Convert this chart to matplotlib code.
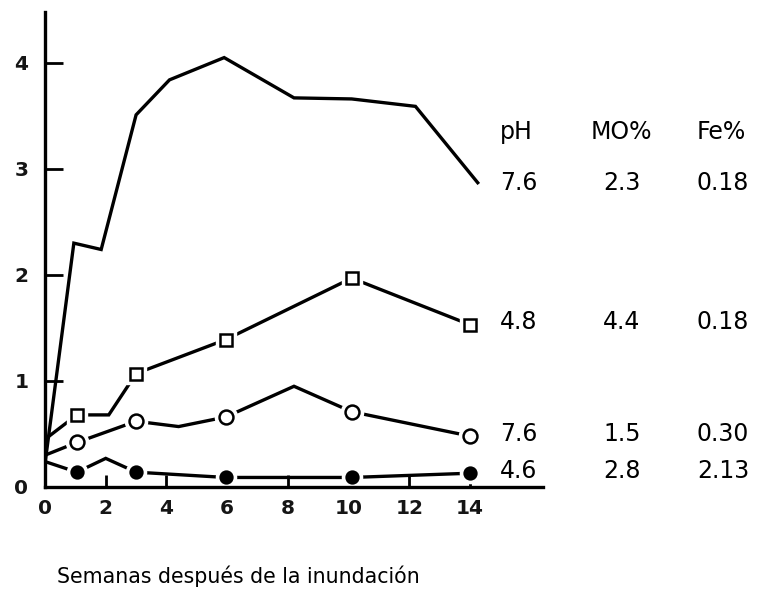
import matplotlib
matplotlib.use("Agg")
import matplotlib.pyplot as plt

top_weeks = [0, 0.95, 1.85, 3.0, 4.1, 5.9, 8.2, 10.1, 12.2, 14.25]
top_vals = [0.22, 2.30, 2.24, 3.51, 3.84, 4.05, 3.67, 3.66, 3.59, 2.87]

sq_weeks = [0, 1.05, 2.1, 3.0, 5.95, 10.1, 14.0]
sq_vals = [0.45, 0.68, 0.68, 1.07, 1.39, 1.97, 1.53]
sq_marks = [1, 3, 4, 5, 6]

circ_weeks = [0, 1.05, 3.0, 4.4, 5.95, 8.2, 10.1, 14.0]
circ_vals = [0.30, 0.42, 0.62, 0.57, 0.66, 0.95, 0.71, 0.48]
circ_marks = [1, 2, 4, 6, 7]

dot_weeks = [0, 1.05, 2.0, 3.0, 5.95, 10.1, 14.0]
dot_vals = [0.24, 0.14, 0.27, 0.14, 0.09, 0.09, 0.13]
dot_marks = [1, 3, 4, 5, 6]

# soil table to the right of the curves (top to bottom)
ph = ["7.6", "4.8", "7.6", "4.6"]
mo = ["2.3", "4.4", "1.5", "2.8"]
fe = ["0.18", "0.18", "0.30", "2.13"]
row_y = [183, 322, 434, 471]   # pixel rows of the table lines

x_ticks = [0, 2, 4, 6, 8, 10, 12, 14]
y_ticks = [0, 1, 2, 3, 4]

W, H = 758, 597
fig = plt.figure(figsize=(W / 100, H / 100), dpi=100)
ax = fig.add_axes([45 / W, 1 - 487 / H, (543 - 45) / W, (487 - 12) / H])

lw = 2.4
ax.plot(top_weeks, top_vals, color="black", lw=lw, solid_joinstyle="miter")


def series(x, y, marks, marker, face, size):
    ax.plot(x, y, color="black", lw=lw, solid_joinstyle="miter")
    # white halo so the line stops short of the symbol, like the drawing
    ax.plot(x, y, ls="none", marker=marker, markevery=marks, ms=size + 6,
            mfc="white", mec="white")
    ax.plot(x, y, ls="none", marker=marker, markevery=marks, ms=size,
            mfc=face, mec="black", mew=1.8)


series(sq_weeks, sq_vals, sq_marks, "s", "white", 9)
series(circ_weeks, circ_vals, circ_marks, "o", "white", 10)
series(dot_weeks, dot_vals, dot_marks, "o", "black", 8.5)

ax.set_xlim(0, 16.4)
ax.set_ylim(0, 4.48)
tick_font = dict(fontfamily="DejaVu Sans", fontweight="bold",
                 fontsize=14.5, color="#151515")
ax.set_xticks(x_ticks, labels=[str(v) for v in x_ticks], **tick_font)
ax.set_yticks(y_ticks, labels=[str(v) for v in y_ticks], **tick_font)
for s in ["top", "right"]:
    ax.spines[s].set_visible(False)
for s in ["left", "bottom"]:
    ax.spines[s].set_linewidth(2.4)
ax.tick_params(axis="y", direction="in", length=13, width=2, pad=12)
ax.tick_params(axis="x", direction="in", length=9, width=2, pad=9)

# table text
fs = 17
fig.text(500 / W, 1 - 132 / H, "pH", fontsize=fs, ha="left", va="center")
fig.text(621 / W, 1 - 132 / H, "MO%", fontsize=fs, ha="center", va="center")
fig.text(721 / W, 1 - 132 / H, "Fe%", fontsize=fs, ha="center", va="center")
for p, m, f, y in zip(ph, mo, fe, row_y):
    fig.text(500 / W, 1 - y / H, p, fontsize=fs, ha="left", va="center")
    fig.text(622 / W, 1 - y / H, m, fontsize=fs, ha="center", va="center")
    fig.text(723 / W, 1 - y / H, f, fontsize=fs, ha="center", va="center")

fig.text(238 / W, 1 - 583 / H, "Semanas después de la inundación",
         fontsize=14.8, ha="center", va="baseline")

fig.savefig("out.png", dpi=100, facecolor="white")
